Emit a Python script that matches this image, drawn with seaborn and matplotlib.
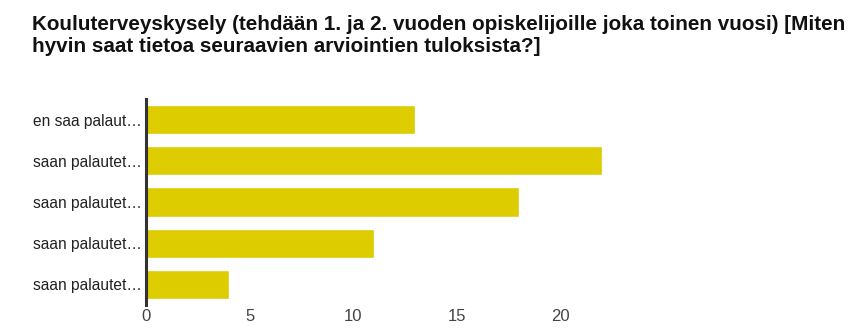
import matplotlib
matplotlib.use("Agg")
import matplotlib.pyplot as plt
import seaborn as sns
import pandas as pd

title_lines = [
    "Kouluterveyskysely (tehdään 1. ja 2. vuoden opiskelijoille joka toinen vuosi) [Miten",
    "hyvin saat tietoa seuraavien arviointien tuloksista?]",
]
categories = ["en saa palaut…", "saan palautet… ", "saan palautet…  ", "saan palautet…   ", "saan palautet…    "]
values = [13, 22, 18, 11, 4]
xticks = [0, 5, 10, 15, 20]

sns.set_theme(style="white")
plt.rcParams["font.family"] = ["Liberation Sans", "DejaVu Sans"]

df = pd.DataFrame({"cat": categories, "val": values})

W, H = 864, 335
fig = plt.figure(figsize=(W / 100, H / 100), dpi=100)
ax = fig.add_axes([146 / W, 1 - 305 / H, (850 - 146) / W, (305 - 99) / H])

sns.barplot(data=df, x="val", y="cat", orient="h", color="#DDCC00",
            saturation=1, width=0.71, ax=ax, order=categories)

ax.set_xlim(0, 34)
ax.set_ylim(4.5, -0.5)
ax.set_xticks(xticks)
ax.set_xticklabels([str(t) for t in xticks], fontsize=12, color="#444444")
ax.set_yticks(range(len(categories)))
ax.set_yticklabels([c.strip() for c in categories], fontsize=11.2, color="#222222")
ax.tick_params(axis="x", length=0, pad=3)
ax.tick_params(axis="y", length=0, pad=3)
ax.set_xlabel("")
ax.set_ylabel("")
for s in ["top", "right", "bottom"]:
    ax.spines[s].set_visible(False)
ax.spines["left"].set_color("#333333")
ax.spines["left"].set_linewidth(2.2)

fig.text(32 / W, 1 - 30 / H, title_lines[0], fontsize=14.9, fontweight="bold",
         color="#111111", ha="left", va="baseline")
fig.text(32 / W, 1 - 52 / H, title_lines[1], fontsize=14.9, fontweight="bold",
         color="#111111", ha="left", va="baseline")

fig.savefig("out.png", dpi=100)
